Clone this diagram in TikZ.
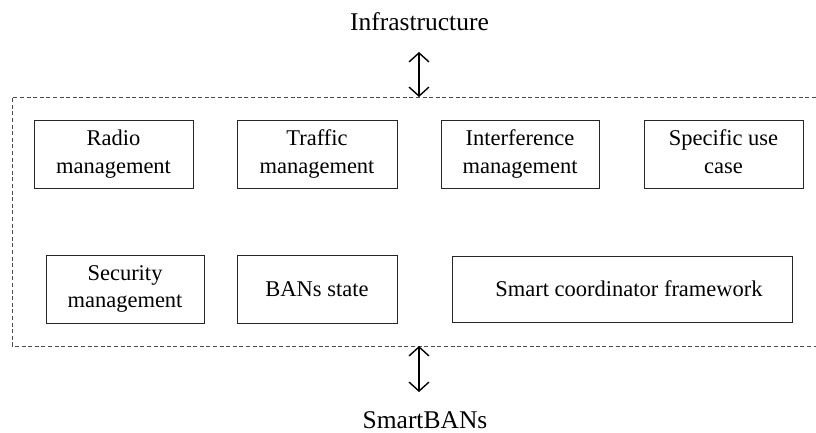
\documentclass[tikz,border=0pt]{standalone}
\usepackage{fontspec}
\setmainfont{Liberation Serif}
\usetikzlibrary{arrows.meta}
\tikzset{
  module/.style={draw=black!85, line width=0.9pt, align=center,
    inner sep=0pt, minimum height=68pt,
    font=\fontsize{22.5}{27.5}\selectfont},
  endlabel/.style={anchor=base, inner sep=0pt, font=\fontsize{25.5}{30}\selectfont},
  frame/.style={draw=black!70, line width=0.9pt, dash pattern=on 4pt off 2.6pt},
  biarrow/.style={line width=1.4pt, {Straight Barb[length=9pt,width=20pt]}-{Straight Barb[length=9pt,width=20pt]}}
}
\begin{document}
\begin{tikzpicture}[x=1pt,y=-1pt]
  \useasboundingbox (0,0) rectangle (816,432);

  % outer dashed region, open to the right
  \draw[frame] (816,97) -- (12,97) -- (12,346) -- (816,346);

  % top row of modules
  \node[module, minimum width=159pt] (radio)   at (113.5,154) {Radio\\management};
  \node[module, minimum width=160pt] (traffic) at (317,154)   {Traffic\\management};
  \node[module, minimum width=158pt] (interf)  at (520,154)   {Interference\\management};
  \node[module, minimum width=159pt] (usecase) at (723.5,154) {Specific use\\case\vphantom{g}};

  % bottom row of modules
  \node[module, minimum width=158pt] (security) at (125,289) {Security\\management};
  \node[module, minimum width=160pt] (banstate) at (317,289) {BANs state};
  \node[module, minimum width=340pt, minimum height=66pt] (smartcoord) at (622,289) {\hspace{14pt}Smart coordinator framework};

  % external endpoints
  \node[endlabel] (infra) at (419.5,30) {Infrastructure};
  \node[endlabel] (sban)  at (425,428) {SmartBANs};

  \coordinate (infraA) at (419,52);
  \coordinate (infraB) at (419,97);
  \coordinate (sbanA)  at (419,346);
  \coordinate (sbanB)  at (419,392);

  \draw[biarrow] (infraA) -- (infraB);
  \draw[biarrow] (sbanA) -- (sbanB);
\end{tikzpicture}
\end{document}
